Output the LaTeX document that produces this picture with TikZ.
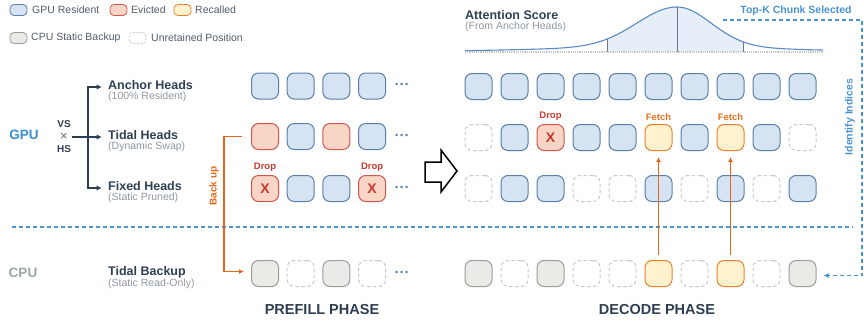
\documentclass[tikz,border=0pt]{standalone}
\usepackage{fontspec}
\setmainfont{Liberation Sans}
\usetikzlibrary{arrows.meta}
\definecolor{resF}{HTML}{D5E3F3}
\definecolor{resB}{HTML}{5A7FA8}
\definecolor{eviF}{HTML}{F9D5C6}
\definecolor{eviB}{HTML}{D0574E}
\definecolor{recF}{HTML}{FFF3CF}
\definecolor{recB}{HTML}{E8802F}
\definecolor{cpuF}{HTML}{ECEAE6}
\definecolor{cpuB}{HTML}{9C9C9C}
\definecolor{unrB}{HTML}{C8C8C8}
\definecolor{navy}{HTML}{2F3F52}
\definecolor{subgray}{HTML}{8E979F}
\definecolor{gpublue}{HTML}{3C8DCB}
\definecolor{cpugray}{HTML}{9AA5A8}
\definecolor{bkor}{HTML}{E2671C}
\definecolor{dropred}{HTML}{C83A2E}
\definecolor{fetchor}{HTML}{E5731F}
\definecolor{dashblue}{HTML}{4B93CF}
\definecolor{shadeF}{HTML}{E6EFF9}
\definecolor{curveC}{HTML}{5A8AC6}
\definecolor{dotC}{HTML}{5B7FA6}
\newcommand\fsz[1]{\fontsize{#1}{#1}\selectfont}
\newcommand\cl{52-40*exp(-0.5*((\x-677)/40)*((\x-677)/40))-5*exp(-0.5*((\x-677)/130)*((\x-677)/130))}
\newcommand\cri{52-40*exp(-0.5*((\x-677)/34)*((\x-677)/34))-5*exp(-0.5*((\x-677)/105)*((\x-677)/105))}
\tikzset{
 bx0/.style={minimum width=27pt,minimum height=26pt,rounded corners=7pt,line width=1pt,inner sep=0pt},
 br/.style={bx0,draw=resB,fill=resF},
 be/.style={bx0,draw=eviB,fill=eviF},
 bx/.style={be,label={[text=dropred,font=\bfseries\fsz{14}]center:X},label={[text=dropred,font=\bfseries\fsz{9.5},inner sep=3pt]above:Drop}},
 bf/.style={bx0,draw=recB,fill=recF},
 bg/.style={bf,label={[text=fetchor,font=\bfseries\fsz{9.5},inner sep=3pt]above:Fetch}},
 bc/.style={bx0,draw=cpuB,fill=cpuF},
 bu/.style={bx0,draw=unrB,dash pattern=on 3.5pt off 2.5pt,fill=white},
 lgb/.style={minimum width=17pt,minimum height=11pt,rounded corners=4pt,line width=0.8pt,inner sep=0pt},
 lgt/.style={anchor=west,font=\fsz{10.5},text=navy!85,inner sep=0pt},
 ttl/.style={anchor=west,font=\bfseries\fsz{12.5},text=navy,inner sep=0pt},
 sub/.style={anchor=west,font=\fsz{10.5},text=subgray,inner sep=0pt},
 tree/.style={draw=navy,line width=1.2pt,-{Latex[length=5.5pt,width=5.5pt]}},
 dotsn/.style={font=\bfseries\fsz{15},text=dotC,inner sep=0pt},
 phase/.style={font=\bfseries\fsz{14.5},text=navy},
 blued/.style={draw=dashblue,line width=1.1pt,dash pattern=on 4pt off 3pt},
}
\begin{document}
\begin{tikzpicture}[x=1pt,y=-1pt]
\useasboundingbox (0,0) rectangle (864,329);
% legend
\node[lgb,draw=resB,fill=resF] (l1) at (18.5,10) {};
\node[lgt] (l1t) at (32,10) {GPU Resident};
\node[lgb,draw=eviB,fill=eviF] (l2) at (118.5,10) {};
\node[lgt] (l2t) at (131,10) {Evicted};
\node[lgb,draw=recB,fill=recF] (l3) at (182.5,10) {};
\node[lgt] (l3t) at (195,10) {Recalled};
\node[lgb,draw=cpuB,fill=cpuF] (l4) at (18.5,38) {};
\node[lgt] (l4t) at (31,38) {CPU Static Backup};
\node[lgb,draw=unrB,dash pattern=on 2pt off 1.5pt,fill=white] (l5) at (137.5,38) {};
\node[lgt] (l5t) at (151,38) {Unretained Position};
% left labels
\node[font=\bfseries\fsz{13.5},text=gpublue] (gpu) at (24,135) {GPU};
\node[font=\bfseries\fsz{13.5},text=cpugray] (cpu) at (23,273) {CPU};
\node[font=\bfseries\fsz{10},text=navy] (vs) at (64,124.5) {VS};
\node[font=\fsz{13},text=navy!75,inner sep=1pt] (xx) at (64,137) {×};
\node[font=\bfseries\fsz{10},text=navy] (hs) at (64,149.5) {HS};
\node[ttl] (ah) at (108,85) {Anchor Heads};
\node[sub] (ahs) at (108,96.5) {(100\% Resident)};
\node[ttl] (th) at (108,135) {Tidal Heads};
\node[sub] (ths) at (108,146.5) {(Dynamic Swap)};
\node[ttl] (fh) at (108,186) {Fixed Heads};
\node[sub] (fhs) at (108,197.5) {(Static Pruned)};
\node[ttl] (tb) at (108,272) {Tidal Backup};
\node[sub] (tbs) at (108,283.5) {(Static Read-Only)};
\coordinate (tj) at (88,137);
\draw[tree] ([xshift=3pt]xx.east) -- ([xshift=-6pt,yshift=-2pt]th.west);
\draw[tree] (tj) |- ([xshift=-6pt,yshift=-2pt]ah.west);
\draw[tree] (tj) |- ([xshift=-6pt,yshift=-2pt]fh.west);
% divider
\draw[blued] (12,227) -- (853,227);
% prefill boxes
\foreach \c [count=\i] in {r,r,r,r} \node[b\c] (pa\i) at ({265+35.7*(\i-1)},86) {};
\foreach \c [count=\i] in {e,r,e,r} \node[b\c] (pt\i) at ({265+35.7*(\i-1)},136.5) {};
\foreach \c [count=\i] in {x,r,r,x} \node[b\c] (pf\i) at ({265+35.7*(\i-1)},188.5) {};
\foreach \c [count=\i] in {c,u,c,u} \node[b\c] (pc\i) at ({265+35.7*(\i-1)},273.5) {};
\foreach \y/\n in {86/1,137/2,189/3,274/4} \node[dotsn] (pd\n) at (402,\y) {···};
% back up
\draw[draw=bkor,line width=1.3pt,-{Latex[length=5pt,width=5pt]}] ([xshift=-9pt]pt1.west) -- ++(-18,0) |- ([xshift=-7pt,yshift=2pt]pc1.west);
\node[rotate=90,font=\bfseries\fsz{10},text=bkor] (bk) at (214,186) {Back up};
% block arrow
\draw[line width=1.5pt,fill=white,line join=miter] (425,162) -- (441,162) -- (441,150) -- (457,171) -- (441,192) -- (441,182) -- (425,182) -- cycle;
% decode boxes
\foreach \c [count=\i] in {r,r,r,r,r,r,r,r,r,r} \node[b\c] (da\i) at ({478.5+36*(\i-1)},86.5) {};
\foreach \c [count=\i] in {u,r,x,r,r,g,r,g,r,u} \node[b\c] (dt\i) at ({478.5+36*(\i-1)},137.5) {};
\foreach \c [count=\i] in {u,r,r,u,u,r,u,r,u,r} \node[b\c] (df\i) at ({478.5+36*(\i-1)},188.5) {};
\foreach \c [count=\i] in {c,u,c,u,u,f,u,f,u,c} \node[b\c] (dc\i) at ({478.5+36*(\i-1)},273.5) {};
\foreach \k in {6,8} \draw[draw=bkor,line width=1.3pt,-{Latex[length=5pt,width=5pt]}] ([yshift=5pt]dc\k.north) -- ([yshift=-6pt]dt\k.south);
% attention curve
\fill[shadeF] (607,52) -- plot[domain=607:677,samples=40] (\x,{\cl}) -- plot[domain=677:743,samples=40] (\x,{\cri}) -- (743,52) -- cycle;
\draw[draw=gray!45,line width=1.2pt,densely dotted] (465,52) -- (823,52);
\draw[draw=curveC,line width=1.1pt] plot[domain=465:677,samples=80] (\x,{\cl}) -- plot[domain=677:823,samples=60] (\x,{\cri});
\draw[draw=navy!70,line width=1pt] (607,52) -- (607,39) (677,52) -- (677,7.2) (743,52) -- (743,41.7);
\node[ttl] (att) at (465,15) {Attention Score};
\node[sub] (atts) at (465,27) {(From Anchor Heads)};
% top-k connector
\node[font=\bfseries\fsz{10.5},text=dashblue] (topk) at (796,11) {Top-K Chunk Selected};
\coordinate (tk) at (723,20);
\draw[blued,-{Latex[length=5pt,width=5pt]}] (tk) -- (862,20) |- ([xshift=7pt,yshift=-2pt]dc10.east);
\node[rotate=90,font=\bfseries\fsz{10.5},text=dashblue] (idx) at (850,117) {Identify Indices};
% phases
\node[phase] (pre) at (322,310) {PREFILL PHASE};
\node[phase] (dec) at (657,310) {DECODE PHASE};
\end{tikzpicture}
\end{document}
